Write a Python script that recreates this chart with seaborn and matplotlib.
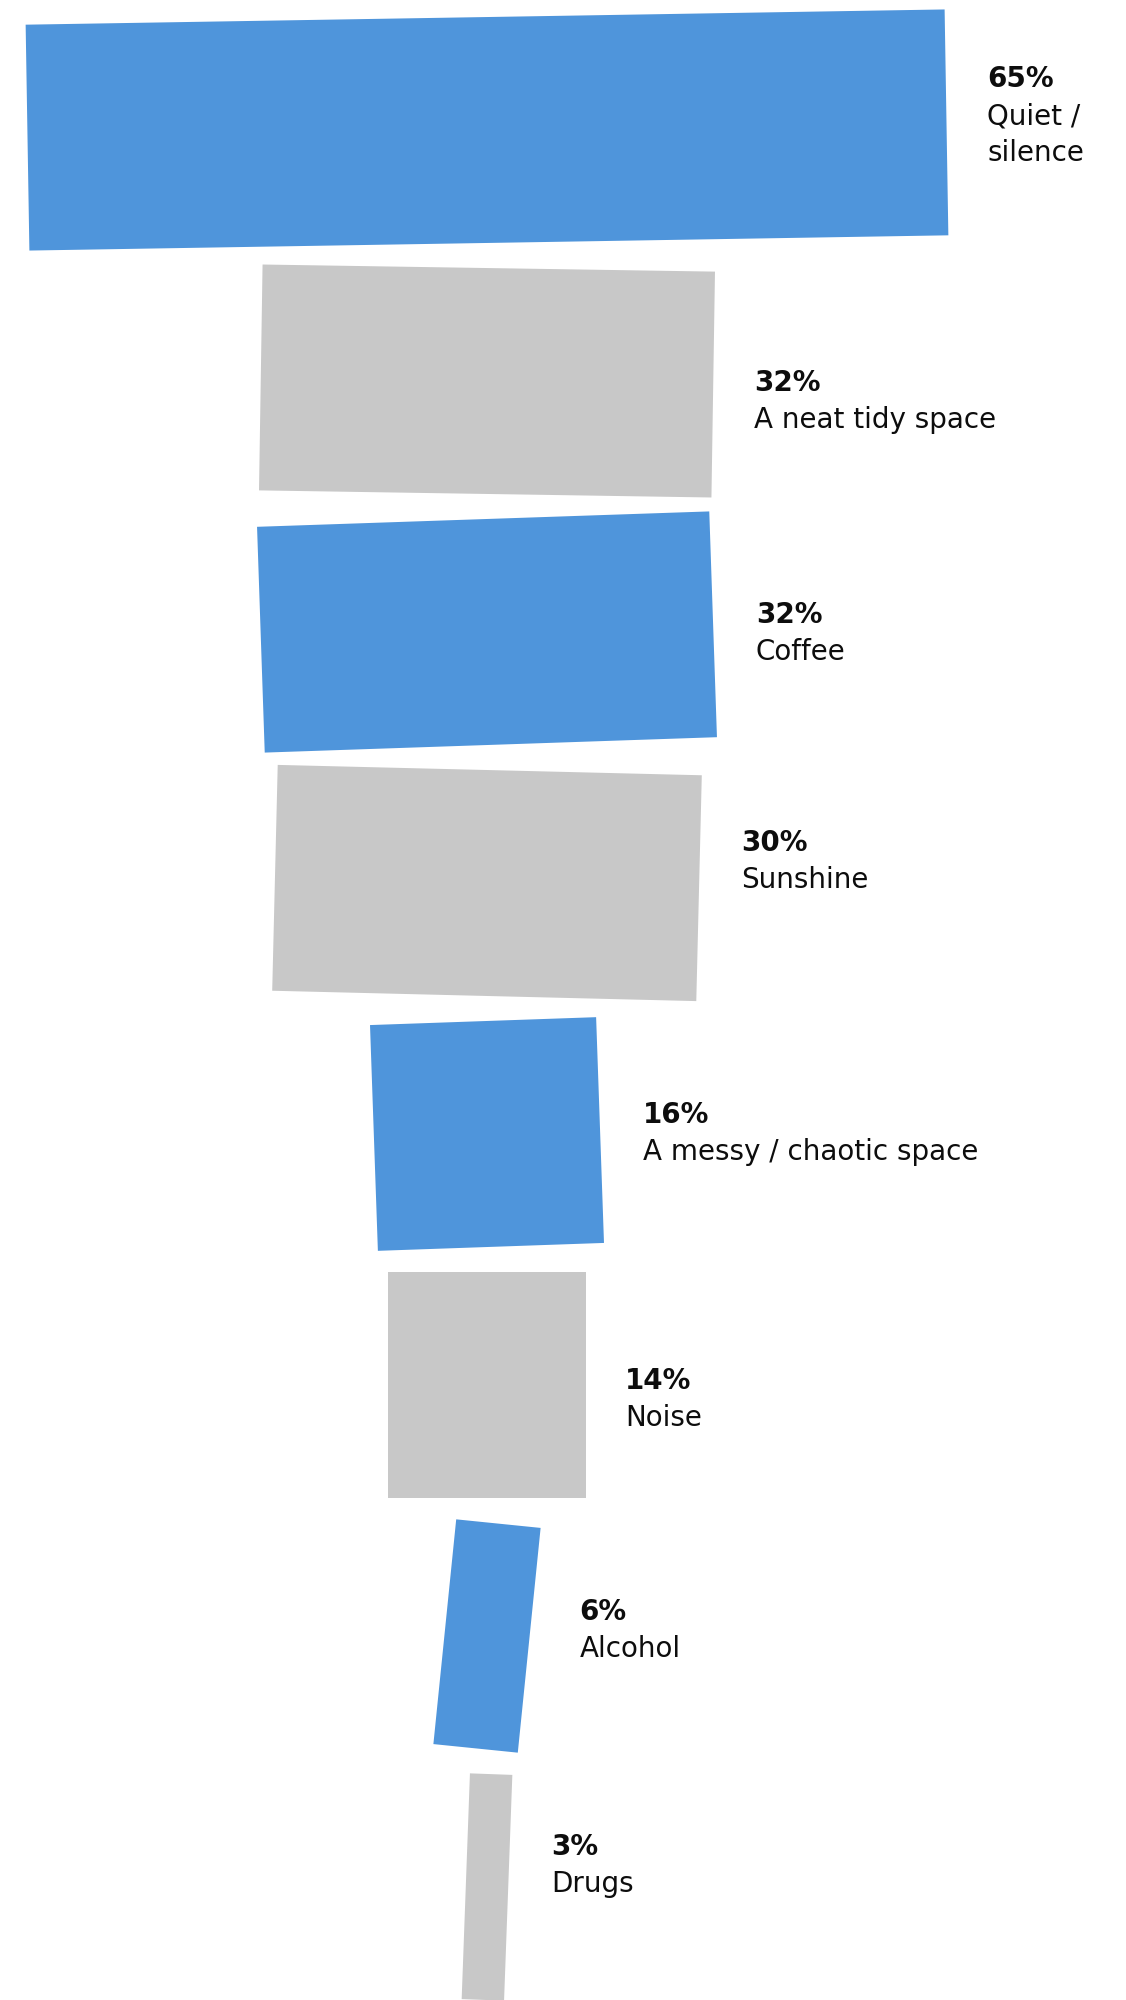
import numpy as np
import pandas as pd
import matplotlib
matplotlib.use("Agg")
import matplotlib.pyplot as plt
import matplotlib.transforms as mtransforms
import seaborn as sns

# Survey answers: what helps people focus
categories = ["Quiet /\nsilence", "A neat tidy space", "Coffee", "Sunshine",
              "A messy / chaotic space", "Noise", "Alcohol", "Drugs"]
shares = [65, 32, 32, 30, 16, 14, 6, 3]
pct_labels = [f"{v}%" for v in shares]

BLUE, GREY = "#4F95DB", "#C8C8C8"
bar_colors = [BLUE, GREY, BLUE, GREY, BLUE, GREY, BLUE, GREY]

# Hand-set tilt of each block (degrees, counter-clockwise)
tilts = [0.95, -0.9, 1.95, -1.4, 2.0, 0.0, -5.8, -2.1]
# Offset of each caption's first line from the block centre (px, downward)
caption_shift = [-62, -9, -28, -51, -30, -15, -35, -51]

# Page geometry
W, H, DPI = 1126, 2000, 100
PX_PER_PCT = 14.14
AXIS_X0 = 487
ROW_PITCH = 251
FIRST_ROW = 130
BAR_FRAC = 0.9
LABEL_GAP = 39
CAP_H = 19
LINE_PITCH = 37
FONT_SIZE = 20

sns.set_theme(style="white")
plt.rcParams["font.family"] = ["DejaVu Sans"]

fig = plt.figure(figsize=(W / DPI, H / DPI), dpi=DPI)
fig.patch.set_facecolor("white")
ax = fig.add_axes([0, 0, 1, 1])

df = pd.DataFrame({"item": categories, "share": shares})
sns.barplot(data=df, x="share", y="item", hue="item",
            palette=dict(zip(categories, bar_colors)), orient="h",
            width=BAR_FRAC, saturation=1, legend=False, linewidth=0, ax=ax)

ax.set_xlim(-AXIS_X0 / PX_PER_PCT, (W - AXIS_X0) / PX_PER_PCT)
ax.set_ylim((H - FIRST_ROW) / ROW_PITCH, -FIRST_ROW / ROW_PITCH)
ax.axis("off")

ident = mtransforms.IdentityTransform()
for patch in ax.patches:
    w = patch.get_width()
    h = patch.get_height()
    row = int(round(patch.get_y() + h / 2))
    # centre the bar on the funnel axis
    patch.set_x(-w / 2)
    cx, cy = ax.transData.transform((0, row))
    rot = mtransforms.Affine2D().rotate_deg_around(cx, cy, tilts[row])
    patch.set_transform(ax.transData + rot)

    # caption to the right of the tilted block
    w_px = ax.transData.transform((w, 0))[0] - ax.transData.transform((0, 0))[0]
    h_px = abs(ax.transData.transform((0, h))[1] - ax.transData.transform((0, 0))[1])
    th = np.radians(tilts[row])
    right = cx + w_px / 2 * np.cos(th) + h_px / 2 * abs(np.sin(th))
    tx = right + LABEL_GAP
    base = cy - caption_shift[row] - CAP_H
    fig.text(tx, base, pct_labels[row], transform=ident, fontsize=FONT_SIZE,
             fontweight="bold", color="#0d0d0d", ha="left", va="baseline")
    for k, line in enumerate(categories[row].split("\n"), start=1):
        fig.text(tx, base - LINE_PITCH * k, line, transform=ident,
                 fontsize=FONT_SIZE, color="#0d0d0d", ha="left", va="baseline")

fig.savefig("out.png", dpi=DPI, facecolor="white")
